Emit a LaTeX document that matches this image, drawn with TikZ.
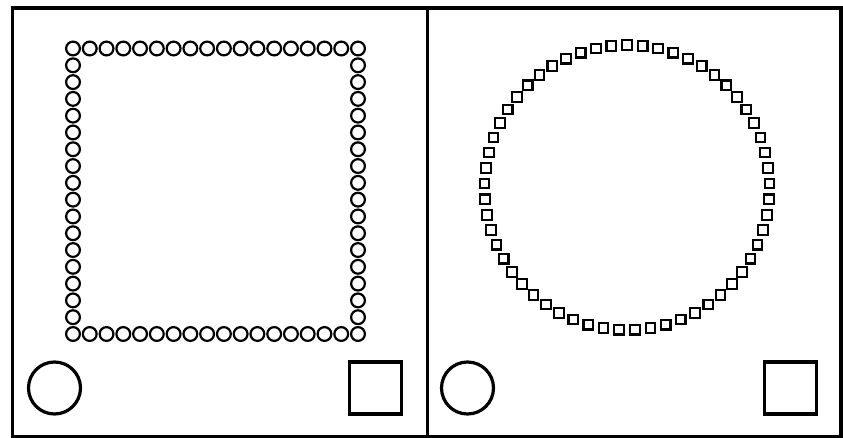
\documentclass[tikz,border=0pt]{standalone}
\begin{document}
\begin{tikzpicture}[x=1pt,y=-1pt,
  frame/.style={line width=3.4pt},
  dot/.style={circle,draw,line width=2.2pt,minimum size=13.8pt,inner sep=0pt},
  sq/.style={rectangle,draw,line width=2.2pt,minimum size=9.6pt,inner sep=0pt},
  bigc/.style={circle,draw,line width=3.2pt,minimum size=52pt,inner sep=0pt},
  bigs/.style={rectangle,draw,line width=3.2pt,minimum size=52pt,inner sep=0pt}]
\useasboundingbox (0,0) rectangle (843,438);
% frame and divider
\draw[frame] (12.5,8) rectangle (841,436.5);
\draw[frame] (427.5,8) -- (427.5,436.5);
% left panel: circles arranged in a square
\foreach \i in {0,...,17} {
  \node[dot] (t\i) at ({73+\i*16.765},48.5) {};
  \node[dot] (b\i) at ({73+\i*16.765},334) {};
}
\foreach \i in {1,...,16} {
  \node[dot] (l\i) at (73,{48.5+\i*16.794}) {};
  \node[dot] (r\i) at (358,{48.5+\i*16.794}) {};
}
% right panel: squares arranged in a circle
\foreach \i in {0,...,56} {
  \pgfmathsetmacro{\ang}{90+\i*6.315789}
  \node[sq] (s\i) at ({627+142.5*cos(\ang)},{187.5-142.5*sin(\ang)}) {};
}
% bottom shapes
\node[bigc] (lc) at (54.5,388) {};
\node[bigs] (ls) at (375.5,388) {};
\node[bigc] (rc) at (467.5,388) {};
\node[bigs] (rs) at (790.5,388) {};
\end{tikzpicture}
\end{document}
